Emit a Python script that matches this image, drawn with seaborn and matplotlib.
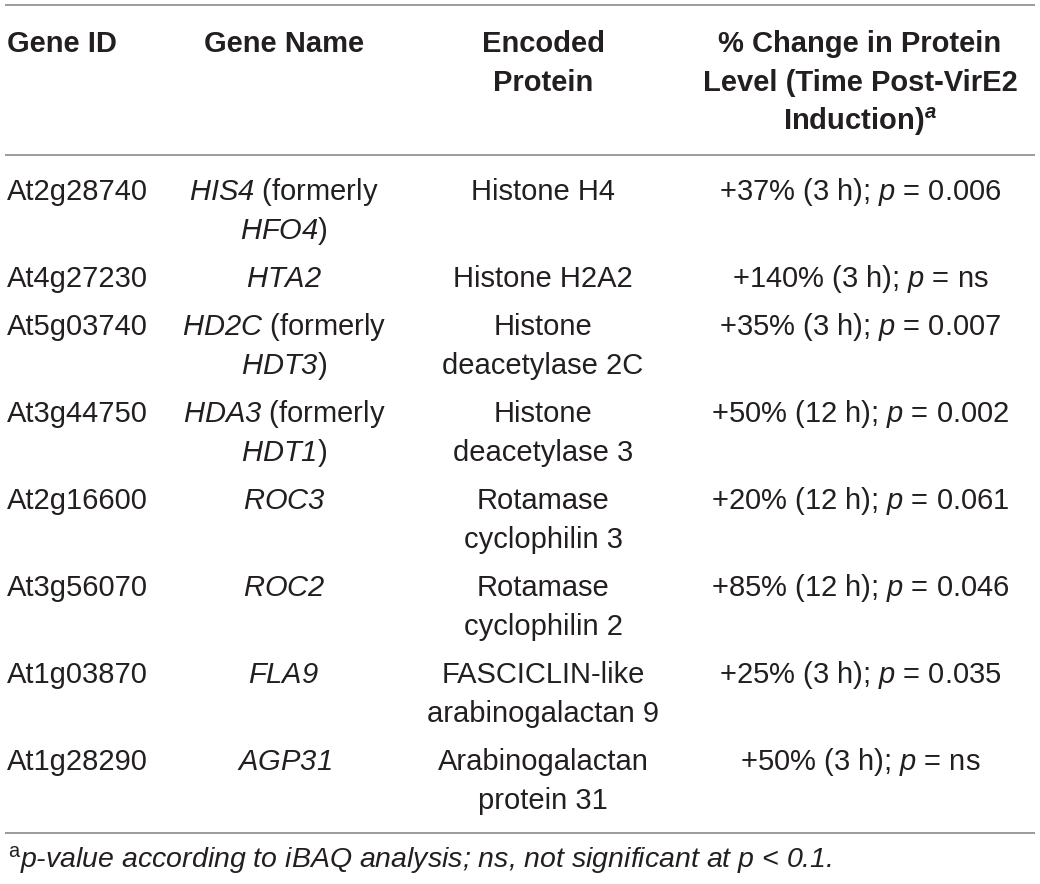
import matplotlib
matplotlib.use("Agg")
import matplotlib.pyplot as plt
import seaborn as sns

# table contents
gene_ids = ["At2g28740", "At4g27230", "At5g03740", "At3g44750",
            "At2g16600", "At3g56070", "At1g03870", "At1g28290"]
gene_names = ["HIS4", "HTA2", "HD2C", "HDA3", "ROC3", "ROC2", "FLA9", "AGP31"]
former_names = ["HFO4", None, "HDT3", "HDT1", None, None, None, None]
proteins = [["Histone H4"], ["Histone H2A2"],
            ["Histone", "deacetylase 2C"], ["Histone", "deacetylase 3"],
            ["Rotamase", "cyclophilin 3"], ["Rotamase", "cyclophilin 2"],
            ["FASCICLIN-like", "arabinogalactan 9"], ["Arabinogalactan", "protein 31"]]
pct_change = [37, 140, 35, 50, 20, 85, 25, 50]
hours = [3, 3, 3, 12, 12, 12, 3, 3]
p_values = ["0.006", "ns", "0.007", "0.002", "0.061", "0.046", "0.035", "ns"]

headers = [["Gene ID"], ["Gene Name"], ["Encoded", "Protein"],
           ["% Change in Protein", "Level (Time Post-VirE2",
            r"Induction)$^{\mathbfit{a}}$"]]
footnote = r"$^{\mathrm{a}}$p-value according to iBAQ analysis; ns, not significant at p < 0.1."

sns.set_theme(style="white")
plt.rcParams["font.family"] = ["Liberation Sans", "DejaVu Sans"]
plt.rcParams["mathtext.fontset"] = "custom"
plt.rcParams["mathtext.rm"] = "Liberation Sans"
plt.rcParams["mathtext.it"] = "Liberation Sans:italic"
# sf slot used for italic gene names so digits stay italic too
plt.rcParams["mathtext.sf"] = "Liberation Sans:italic"
plt.rcParams["mathtext.bf"] = "Liberation Sans:bold"
plt.rcParams["mathtext.bfit"] = "Liberation Sans:italic:bold"

fig = plt.figure(figsize=(10.4, 8.84), dpi=100)
ax = fig.add_axes([0, 0, 1, 1])
ax.set_xlim(0, 1040)
ax.set_ylim(884, 0)
ax.axis("off")

txt_col = "#231f20"
rule_col = "#9b9b9b"
fs = 21
col_x = [7, 284, 543, 860]
col_ha = ["left", "center", "center", "center"]
line_h = 39

for y in [5, 155, 833]:
    ax.plot([5, 1035], [y, y], color=rule_col, lw=1.4, solid_capstyle="butt")

# header
for j, lines in enumerate(headers):
    for k, s in enumerate(lines):
        ax.text(col_x[j], 52 + k * line_h, s, ha=col_ha[j], va="baseline",
                fontsize=fs, fontweight="bold", color=txt_col)

# body
y = 200
for i in range(len(gene_ids)):
    if former_names[i]:
        name_lines = [r"$\mathsf{%s}$ (formerly" % gene_names[i],
                      r"$\mathsf{%s}$)" % former_names[i]]
    else:
        name_lines = [r"$\mathsf{%s}$" % gene_names[i]]
    change = r"+%d%% (%d h); $\mathit{p}$ = %s" % (pct_change[i], hours[i], p_values[i])
    cells = [[gene_ids[i]], name_lines, proteins[i], [change]]
    for j, lines in enumerate(cells):
        for k, s in enumerate(lines):
            ax.text(col_x[j], y + k * line_h, s, ha=col_ha[j], va="baseline",
                    fontsize=fs, color=txt_col)
    n = max(len(c) for c in cells)
    y += (n - 1) * line_h + 48

ax.text(8, 867, footnote, ha="left", va="baseline", fontsize=20.5,
        style="italic", color=txt_col)

fig.savefig("out.png", dpi=100)
